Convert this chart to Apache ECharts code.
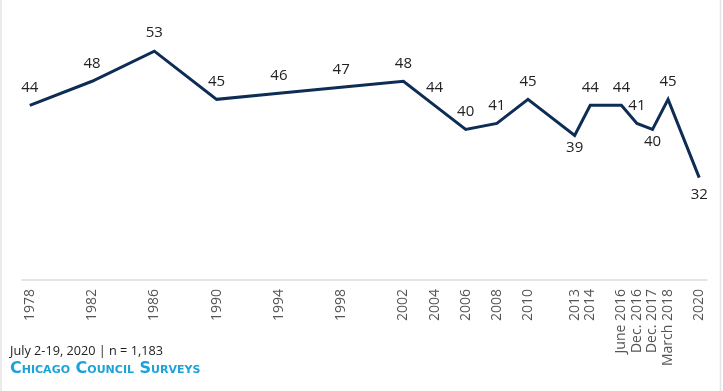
<!DOCTYPE html>
<html><head><meta charset="utf-8">
<script src="https://cdn.jsdelivr.net/npm/echarts@6/dist/echarts.min.js"></script>
<style>html,body{margin:0;padding:0;background:#fff}#c{width:723px;height:391px}</style>
</head><body><div id="c"></div>
<script>
// Category labels and their slot positions on the axis (one slot per survey step)
const labels = ['1978','1982','1986','1990','1994','1998','2002','2004','2006','2008','2010','2013','2014','June 2016','Dec. 2016','Dec. 2017','March 2018','2020'];
const slots  = [0,4,8,12,16,20,24,26,28,30,32,35,36,38,39,40,41,43];
const values = [44,48,53,45,46,47,48,44,40,41,45,39,44,44,41,40,45,32];
const belowLabels = ['2013','Dec. 2017','2020'];

const chart = echarts.init(document.getElementById('c'));
const labelMap = {};
slots.forEach((s,i)=>{labelMap[s]=labels[i];});
const data = values.map((v,i)=>{
  const below = belowLabels.includes(labels[i]);
  return {value:[slots[i], v], label: below ? {position:'bottom', distance: labels[i]==='2020'?9:4} : {}};
});
const FONT = '"Open Sans", sans-serif';
chart.setOption({
  animation:false,
  grid:{left:22,right:16,top:9,bottom:111},
  xAxis:{type:'value',min:-0.5,max:43.5,
    axisLine:{show:true,lineStyle:{color:'#dcdcdc',width:1.5}},
    axisTick:{show:false},splitLine:{show:false},
    axisLabel:{customValues:slots,rotate:90,margin:9,color:'#555',fontSize:14,fontFamily:FONT,
      formatter:v=>labelMap[Math.round(v)]||''}},
  yAxis:{type:'value',min:15,max:60,show:false,splitLine:{show:false}},
  series:[{type:'line',data:data,symbol:'circle',symbolSize:1,showSymbol:true,
    lineStyle:{color:'#0e2d55',width:3,join:'miter'},itemStyle:{color:'transparent',borderWidth:0},
    label:{show:true,position:'top',distance:10,color:'#222',fontSize:15,fontFamily:FONT,
      formatter:p=>p.value[1]}}],
  graphic:[
    {type:'line',shape:{x1:1,y1:0,x2:1,y2:391},style:{stroke:'#e4e4e4',lineWidth:1.5}},
    {type:'line',shape:{x1:720.5,y1:0,x2:720.5,y2:391},style:{stroke:'#e4e4e4',lineWidth:1.5}},
    {type:'text',left:10,top:345,style:{text:'July 2-19, 2020 | n = 1,183',fill:'#222',font:'12.7px '+FONT}},
    {type:'text',left:10,top:361,style:{text:'Chicago Council Surveys',fill:'#1ba3d9',
      font:'small-caps bold 16px "DejaVu Sans", sans-serif'}}
  ]
});
</script></body></html>
